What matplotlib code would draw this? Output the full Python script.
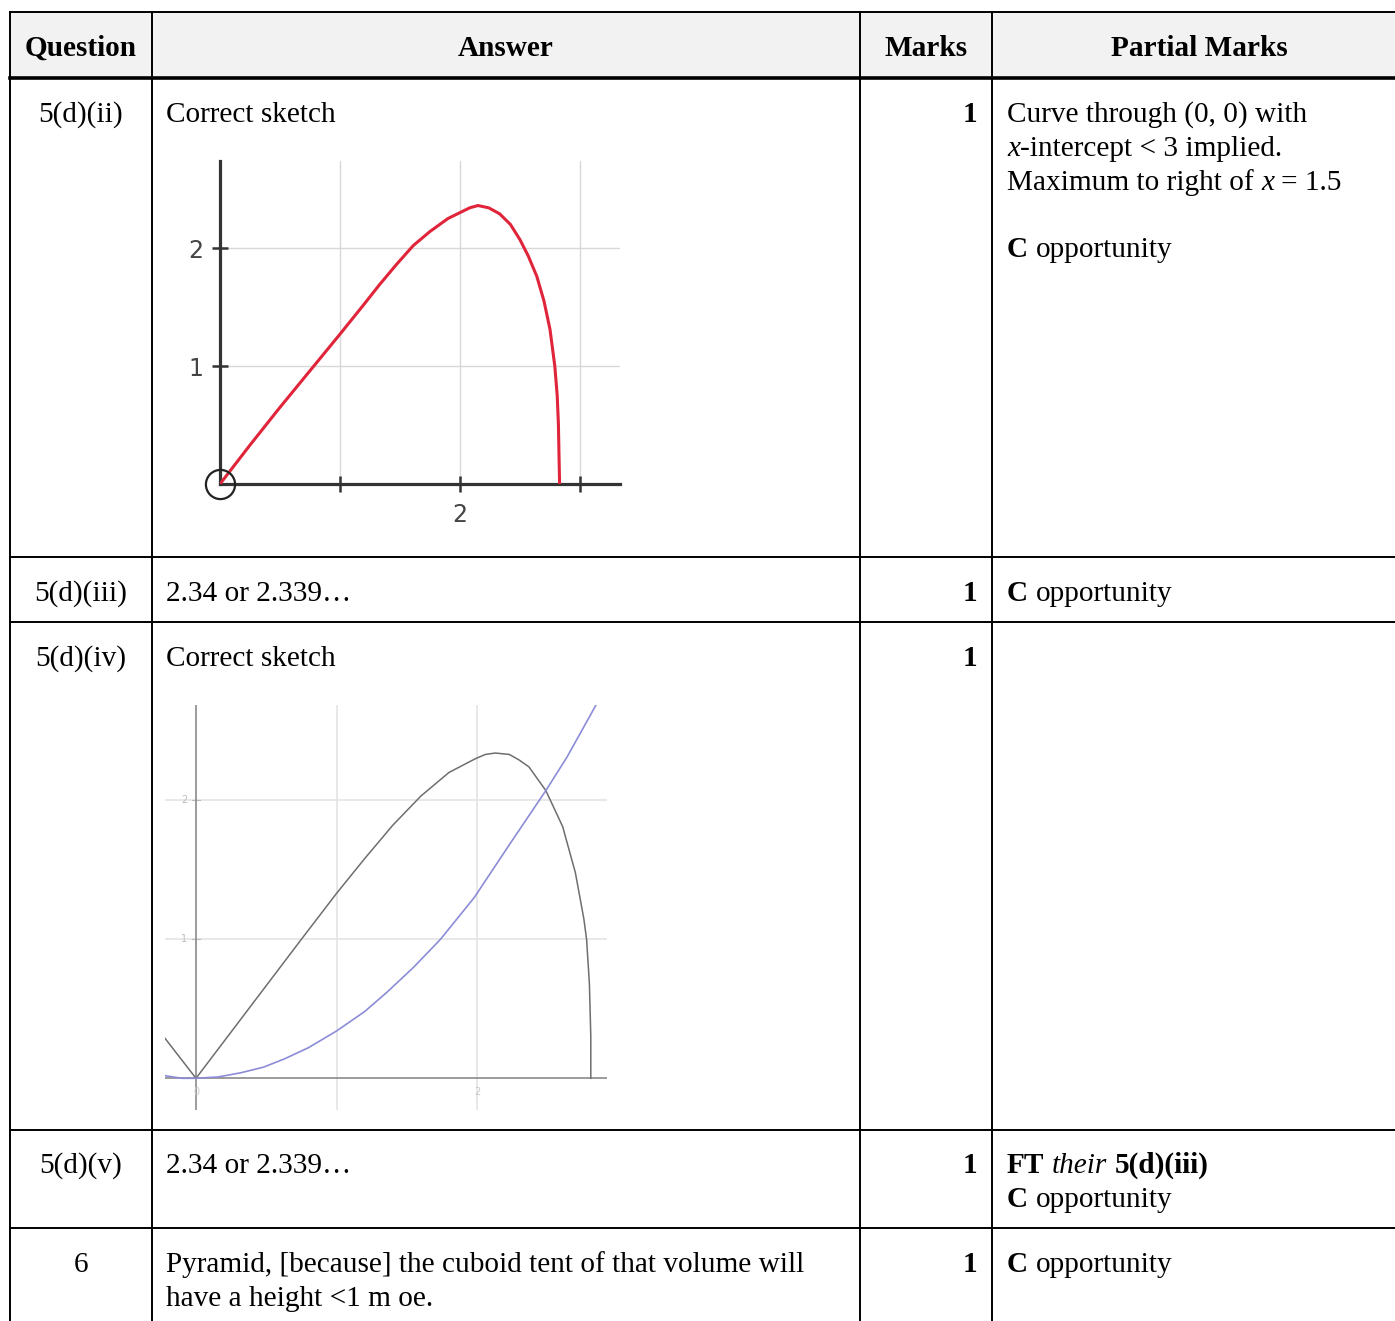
import matplotlib.pyplot as plt

W, H = 1395, 1321
FS = 21.1
SERIF = 'Liberation Serif'

# table content
headers = ['Question', 'Answer', 'Marks', 'Partial Marks']
questions = ['5(d)(ii)', '5(d)(iii)', '5(d)(iv)', '5(d)(v)', '6']
answers = [['Correct sketch'], ['2.34 or 2.339…'], ['Correct sketch'], ['2.34 or 2.339…'],
           ['Pyramid, [because] the cuboid tent of that volume will', 'have a height <1 m oe.']]
marks = ['1', '1', '1', '1', '1']

# sketch 1: curve
sk1_x = [0, 0.25, 0.5, 0.75, 1.0, 1.19, 1.33, 1.47, 1.61, 1.75, 1.9, 2.0, 2.08, 2.15, 2.24, 2.33, 2.42,
         2.5, 2.57, 2.64, 2.70, 2.75, 2.79, 2.81, 2.82, 2.825, 2.83]
sk1_y = [0, 0.33, 0.65, 0.96, 1.27, 1.51, 1.69, 1.86, 2.02, 2.14, 2.25, 2.30, 2.34, 2.36, 2.34, 2.29, 2.20,
         2.07, 1.93, 1.76, 1.55, 1.31, 1.0, 0.75, 0.51, 0.25, 0]

# sketch 2: grey curve and blue curve
sk2_gx = [-0.23, 0, 0.21, 0.51, 0.75, 1.0, 1.2, 1.4, 1.6, 1.8, 1.99, 2.06, 2.13, 2.23, 2.30, 2.37, 2.49,
          2.61, 2.70, 2.76, 2.78, 2.80, 2.81, 2.81]
sk2_gy = [0.30, 0, 0.28, 0.68, 1.0, 1.33, 1.58, 1.82, 2.03, 2.20, 2.30, 2.33, 2.34, 2.33, 2.29, 2.24, 2.07,
          1.81, 1.48, 1.15, 1.0, 0.68, 0.30, 0]
sk2_bx = [-0.23, -0.1, 0, 0.16, 0.32, 0.48, 0.63, 0.8, 1.0, 1.2, 1.36, 1.55, 1.74, 1.98, 2.23, 2.49,
          2.64, 2.80, 2.86]
sk2_by = [0.02, 0.0, 0, 0.01, 0.04, 0.08, 0.14, 0.22, 0.34, 0.48, 0.62, 0.80, 1.0, 1.30, 1.68, 2.07,
          2.31, 2.60, 2.71]

fig = plt.figure(figsize=(W / 100, H / 100), dpi=100)
ax = fig.add_axes([0, 0, 1, 1])
ax.set_xlim(0, W)
ax.set_ylim(H, 0)
ax.axis('off')
r = fig.canvas.get_renderer()

cols = [10, 152, 860, 992, 1406]
rows = [12, 78, 557, 622, 1130, 1228]

ax.add_patch(plt.Rectangle((10, 12), W - 10, 66, color='#f2f2f2', zorder=0))
for x in cols[:4]:
    ax.plot([x, x], [12, H], color='black', lw=1.4)
for y in rows:
    ax.plot([10, W], [y, y], color='black', lw=2.6 if y == 78 else 1.4)


def tw(s, **kw):
    t = ax.text(0, 0, s, fontsize=FS, family=SERIF, **kw)
    w = t.get_window_extent(renderer=r).width
    t.remove()
    return w


def runs(x, y, parts):
    for s, wt, st in parts:
        sp = tw('n n', weight=wt, style=st) - tw('nn', weight=wt, style=st)
        core = s.strip(' ')
        if not core:
            x += len(s) * sp
            continue
        x += (len(s) - len(s.lstrip(' '))) * sp
        ax.text(x, y, core, fontsize=FS, family=SERIF, weight=wt, style=st, va='baseline')
        x += tw(core, weight=wt, style=st)
        x += (len(s) - len(s.rstrip(' '))) * sp


# header
for i, h in enumerate(headers):
    cx = (cols[i] + cols[i + 1]) / 2
    ax.text(cx, 56, h, fontsize=FS, family=SERIF, weight='bold', ha='center', va='baseline')

base = [122, 601, 666, 1173, 1272]
for i in range(5):
    ax.text(81, base[i], questions[i], fontsize=FS, family=SERIF, ha='center', va='baseline')
    for j, line in enumerate(answers[i]):
        ax.text(166, base[i] + 34 * j, line, fontsize=FS, family=SERIF, va='baseline')
    ax.text(977, base[i], marks[i], fontsize=FS, family=SERIF, weight='bold', ha='right', va='baseline')

N, B, I = 'normal', 'bold', 'italic'
runs(1007, 122, [('Curve through (0, 0) with', N, N)])
runs(1007, 156, [('x', N, I), ('-intercept < 3 implied.', N, N)])
runs(1007, 190, [('Maximum to right of ', N, N), ('x', N, I), (' = 1.5', N, N)])
runs(1007, 257, [('C', B, N), (' opportunity', N, N)])
runs(1007, 601, [('C', B, N), (' opportunity', N, N)])
runs(1007, 1173, [('FT', B, N), (' ', N, N), ('their', N, I), (' ', N, N), ('5(d)(iii)', B, N)])
runs(1007, 1207, [('C', B, N), (' opportunity', N, N)])
runs(1007, 1272, [('C', B, N), (' opportunity', N, N)])


def frac(x0, y0, x1, y1):
    return [x0 / W, 1 - y1 / H, (x1 - x0) / W, (y1 - y0) / H]


# sketch 1
a1 = fig.add_axes(frac(220, 161, 620, 484))
a1.set_xlim(0, 400 / 120)
a1.set_ylim(0, 323 / 118)
for s in ['top', 'right']:
    a1.spines[s].set_visible(False)
for s in ['left', 'bottom']:
    a1.spines[s].set_linewidth(2.3)
    a1.spines[s].set_color('#333333')
a1.set_xticks([1, 2, 3], ['', '2', ''])
a1.set_yticks([1, 2], ['1', '2'])
a1.tick_params(direction='inout', length=12, width=1.8, color='#333333', labelsize=17,
               labelcolor='#444444', pad=6)
a1.tick_params(axis='x', pad=8)
a1.grid(True, color='#d8d8d8', lw=1)
a1.set_axisbelow(True)
a1.patch.set_alpha(0)
a1.plot(sk1_x, sk1_y, color='#e0243a', lw=2.2, solid_joinstyle='round', zorder=3)
a1.plot([0], [0], 'o', ms=21, mfc='none', mec='#222222', mew=1.6, clip_on=False, zorder=4)

# sketch 2
a2 = fig.add_axes(frac(165, 705, 607, 1110))
a2.set_xlim((165 - 196) / 140.5, (607 - 196) / 140.5)
a2.set_ylim((1078.3 - 1110) / 139, (1078.3 - 705) / 139)
a2.axis('off')
for v in [1, 2]:
    a2.axvline(v, color='#e2e2e2', lw=1.1)
    a2.axhline(v, color='#e2e2e2', lw=1.1)
    a2.plot([-0.03, 0.03], [v, v], color='#bbbbbb', lw=0.8)
    a2.text(-0.06, v, str(v), fontsize=7, color='#bbbbbb', ha='right', va='center')
a2.text(2, -0.1, '2', fontsize=7, color='#c8c8c8', ha='center', va='center')
a2.text(0, -0.1, '0', fontsize=7, color='#c8c8c8', ha='center', va='center')
a2.axhline(0, color='#8a8a8a', lw=1.2)
a2.axvline(0, color='#8a8a8a', lw=1.2)
a2.plot(sk2_gx, sk2_gy, color='#6e6e6e', lw=1.1, solid_joinstyle='round')
a2.plot(sk2_bx, sk2_by, color='#8c8cd8', lw=1.2, solid_joinstyle='round')

fig.savefig('out.png', dpi=100)
